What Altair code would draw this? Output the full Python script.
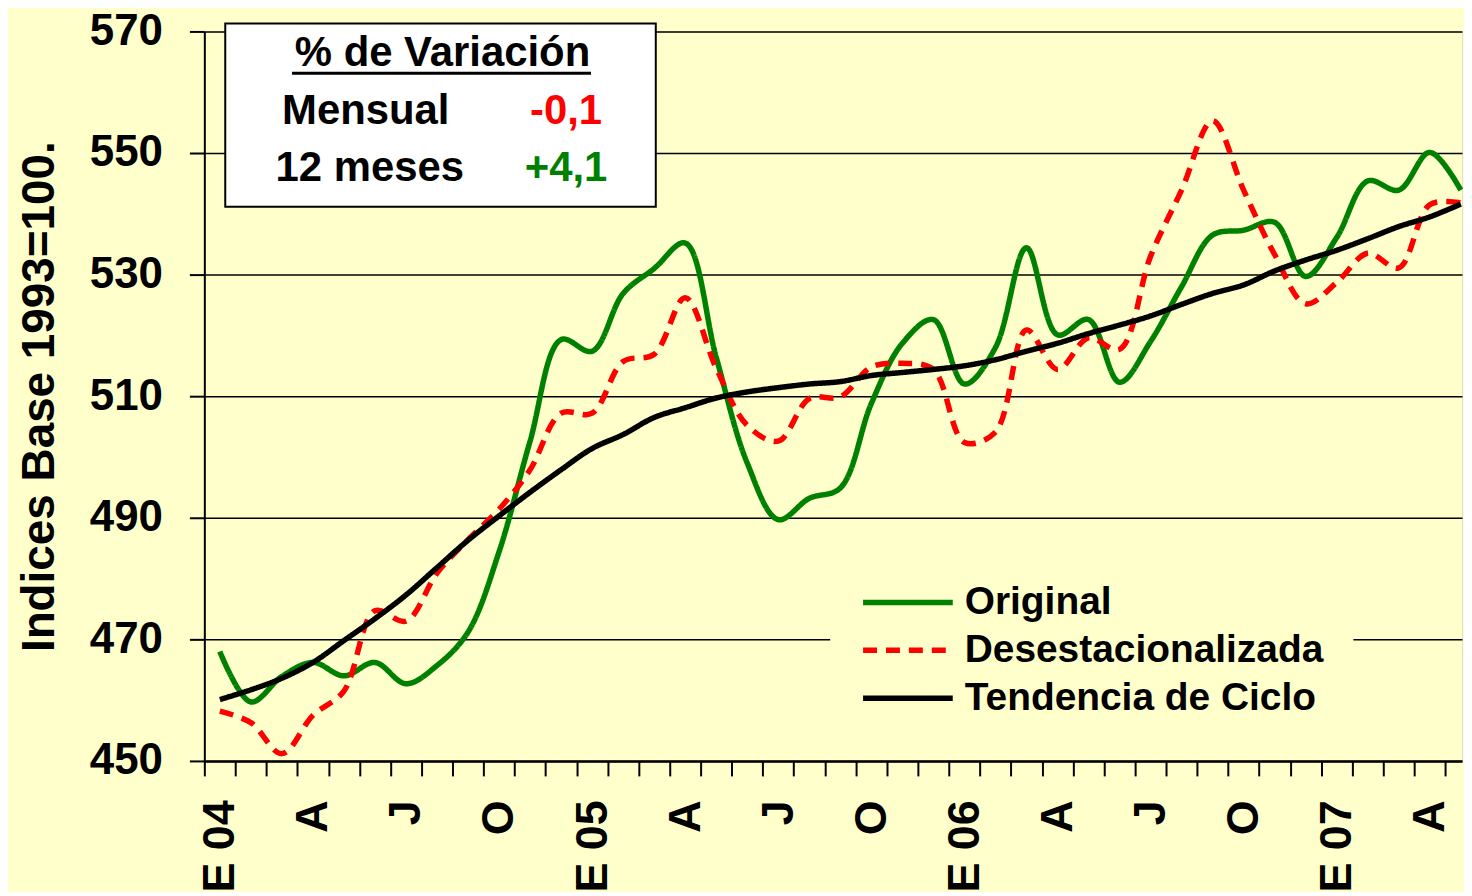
import json
import altair as alt
import pandas as pd

# ---------------- data ----------------
series_names = ["Original", "Desestacionalizada", "Tendencia de Ciclo"]
series_colors = ["#008000", "#FF0000", "#000000"]

# monthly values, Jan 2004 .. May 2007 (41 months)
original = [468.0, 459.7, 463.9, 466.2, 464.0, 466.2, 462.7, 465.7, 471.2, 484.4,
            502.6, 519.3, 517.4, 526.9, 531.0, 535.2, 516.4, 499.0, 489.7, 493.2,
            494.9, 508.8, 518.7, 522.6, 512.0, 518.0, 534.4, 520.1, 522.6, 512.3,
            519.0, 528.0, 536.5, 537.3, 538.6, 529.7, 536.1, 545.4, 543.9, 550.1,
            543.9]
desestacionalizada = [458.2, 456.3, 451.2, 457.5, 461.5, 474.7, 473.0, 480.9, 486.4, 491.4,
                      497.9, 507.2, 507.2, 515.7, 516.9, 526.2, 514.6, 505.2, 502.6, 509.6,
                      509.9, 514.8, 515.4, 514.4, 502.4, 504.1, 520.9, 514.4, 519.6, 517.7,
                      533.0, 543.9, 555.3, 543.9, 533.3, 525.2, 528.7, 533.5, 531.1, 541.5,
                      541.8]
tendencia = [460.1, 461.7, 463.6, 466.2, 469.8, 473.4, 477.3, 481.8, 486.3, 490.3,
             494.2, 497.9, 501.4, 503.7, 506.5, 508.1, 509.7, 510.7, 511.4, 512.0,
             512.4, 513.4, 513.9, 514.4, 515.0, 516.0, 517.4, 518.7, 520.3, 521.7,
             523.2, 525.1, 526.9, 528.3, 530.6, 532.4, 534.0, 535.9, 537.9, 539.5,
             541.6]

month_tick_labels = ["E 04", "A", "J", "O", "E 05", "A", "J", "O",
                     "E 06", "A", "J", "O", "E 07", "A"]
y_ticks = [450, 470, 490, 510, 530, 550, 570]

box_title = "% de Variación"
box_labels = ["Mensual", "12 meses"]
box_values = ["-0,1", "+4,1"]
box_value_colors = ["#FF0000", "#008000"]
y_title = "Indices Base 1993=100."

# ---------------- build table ----------------
rows = []
for name, vals in zip(series_names, [original, desestacionalizada, tendencia]):
    for i, v in enumerate(vals):
        rows.append({"serie": name, "t": i + 0.5, "v": v, "idx": i})
df = pd.DataFrame(rows)
one = pd.DataFrame({"k": [0]})

FONT = "Liberation Sans"
W, H = 1262, 732
n_months = len(original)
band = 31.13

label_expr = ("datum.value % 3 == 0 ? " + json.dumps(month_tick_labels)
              + "[datum.value / 3] : ''")

x_axis = alt.Axis(values=list(range(n_months)), labelExpr=label_expr,
                  labelAngle=270, labelAlign="right", labelBaseline="middle",
                  labelOffset=band / 2, labelPadding=24, labelFont=FONT,
                  labelFontSize=45, labelFontWeight="bold", labelColor="black",
                  labelOverlap=False, labelFlush=False, labelBound=False,
                  tickSize=15, tickWidth=2, tickColor="black",
                  domainColor="black", domainWidth=2.5, grid=False, title=None)

y_axis = alt.Axis(values=y_ticks, tickSize=15, tickWidth=2, tickColor="black",
                  domainColor="black", domainWidth=2, labelPadding=27,
                  labelFont=FONT, labelFontSize=44, labelFontWeight="bold",
                  labelColor="black", labelBaseline="middle",
                  grid=True, gridColor="black", gridWidth=1.5,
                  title=y_title, titleFont=FONT, titleFontSize=46,
                  titleFontWeight="bold", titleColor="black", titlePadding=26)

legend = alt.Legend(orient="none", legendX=628, legendY=523, title=None,
                    fillColor="#FFFFCC", padding=30, symbolType="stroke",
                    symbolSize=8100, symbolStrokeWidth=5.5, labelOffset=9,
                    clipHeight=40, rowPadding=8, labelFont=FONT,
                    labelFontSize=39, labelFontWeight="bold",
                    labelColor="black", labelLimit=1000)

lines = alt.Chart(df).mark_line(strokeWidth=5.5, interpolate="catmull-rom").encode(
    x=alt.X("t:Q", scale=alt.Scale(domain=[0, W / band], nice=False, zero=False),
            axis=x_axis),
    y=alt.Y("v:Q", scale=alt.Scale(domain=[450, 570], nice=False, zero=False),
            axis=y_axis),
    color=alt.Color("serie:N", scale=alt.Scale(domain=series_names,
                                               range=series_colors),
                    legend=legend),
    strokeDash=alt.StrokeDash("serie:N",
                              scale=alt.Scale(domain=series_names,
                                              range=[[1, 0], [14, 9], [1, 0]]),
                              legend=legend),
    order="idx:Q",
)

box = alt.Chart(one).mark_rect(fill="white", stroke="black", strokeWidth=2).encode(
    x=alt.value(21), x2=alt.value(453), y=alt.value(-8), y2=alt.value(176))

title_txt = alt.Chart(one).mark_text(text=box_title, font=FONT, fontSize=42,
                                     fontWeight="bold", align="center",
                                     baseline="alphabetic", color="black").encode(
    x=alt.value(239), y=alt.value(35))
underline = alt.Chart(one).mark_rule(color="black", strokeWidth=3).encode(
    x=alt.value(88), x2=alt.value(388), y=alt.value(42))

txt_layers = []
for j, (lab, val, col) in enumerate(zip(box_labels, box_values, box_value_colors)):
    yb = 93 + 57 * j
    txt_layers.append(alt.Chart(one).mark_text(text=lab, font=FONT, fontSize=42,
                                               fontWeight="bold", align="center",
                                               baseline="alphabetic",
                                               color="black").encode(
        x=alt.value(162 + 4 * j), y=alt.value(yb)))
    txt_layers.append(alt.Chart(one).mark_text(text=val, font=FONT, fontSize=42,
                                               fontWeight="bold", align="center",
                                               baseline="alphabetic",
                                               color=col).encode(
        x=alt.value(363), y=alt.value(yb)))

chart = alt.layer(lines, box, title_txt, underline, *txt_layers).properties(
    width=W, height=H,
    padding={"left": 197, "top": 22, "right": 2, "bottom": 130},
    autosize=alt.AutoSizeParams(type="none"),
    background="#FFFFCC",
).configure_view(strokeWidth=0).configure(font=FONT)

chart.save("out.html", embed_options={"renderer": "svg", "actions": False})
